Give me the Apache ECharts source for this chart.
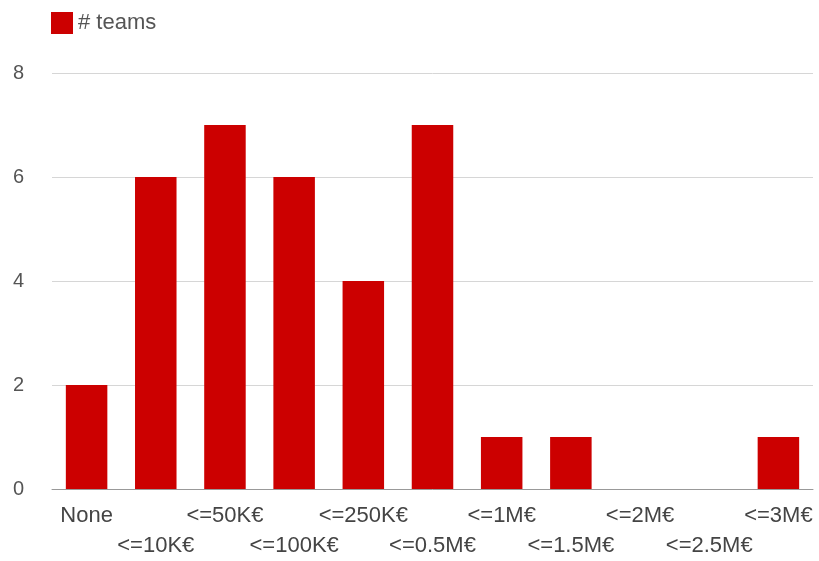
<!DOCTYPE html>
<html>
<head>
<meta charset="utf-8">
<script src="https://cdn.jsdelivr.net/npm/echarts@6/dist/echarts.min.js"></script>
<style>html,body{margin:0;padding:0;background:#fff;overflow:hidden}#c{width:819px;height:561px}</style>
</head>
<body>
<div id="c"></div>
<script>
const categories = ["None", "<=10K€", "<=50K€", "<=100K€", "<=250K€", "<=0.5M€", "<=1M€", "<=1.5M€", "<=2M€", "<=2.5M€", "<=3M€"];
const teams = [2, 6, 7, 6, 4, 7, 1, 1, 0, 0, 1];
const seriesName = "# teams";
const yTicks = { min: 0, max: 8, interval: 2 };

const chart = echarts.init(document.getElementById('c'));
chart.setOption({
  animation: false,
  legend: {
    left: 46, top: 7,
    itemWidth: 22, itemHeight: 22, itemGap: 10,
    icon: 'rect',
    textStyle: { fontFamily: 'Liberation Sans, Arial, sans-serif', fontSize: 22, color: '#555' },
    data: [seriesName]
  },
  grid: { left: 52, right: 6, top: 73, bottom: 69 },
  xAxis: {
    type: 'category',
    data: categories,
    axisTick: { show: false },
    axisLine: { lineStyle: { color: '#999', width: 1 } },
    axisLabel: {
      interval: 0,
      margin: 12,
      fontFamily: 'Liberation Sans, Arial, sans-serif',
      fontSize: 22,
      color: '#444',
      lineHeight: 30,
      formatter: (v, i) => (i % 2 === 1 ? '\n' + v : v)
    }
  },
  yAxis: {
    type: 'value',
    min: yTicks.min, max: yTicks.max, interval: yTicks.interval,
    axisLine: { show: false },
    axisTick: { show: false },
    splitLine: { lineStyle: { color: '#d6d6d6', width: 1 } },
    axisLabel: {
      margin: 28,
      padding: [6, 0, 0, 0],
      fontFamily: 'Liberation Sans, Arial, sans-serif',
      fontSize: 20,
      color: '#555'
    }
  },
  series: [{
    name: seriesName,
    type: 'bar',
    data: teams,
    barCategoryGap: '40%',
    itemStyle: { color: '#cc0000' }
  }]
});
</script>
</body>
</html>
